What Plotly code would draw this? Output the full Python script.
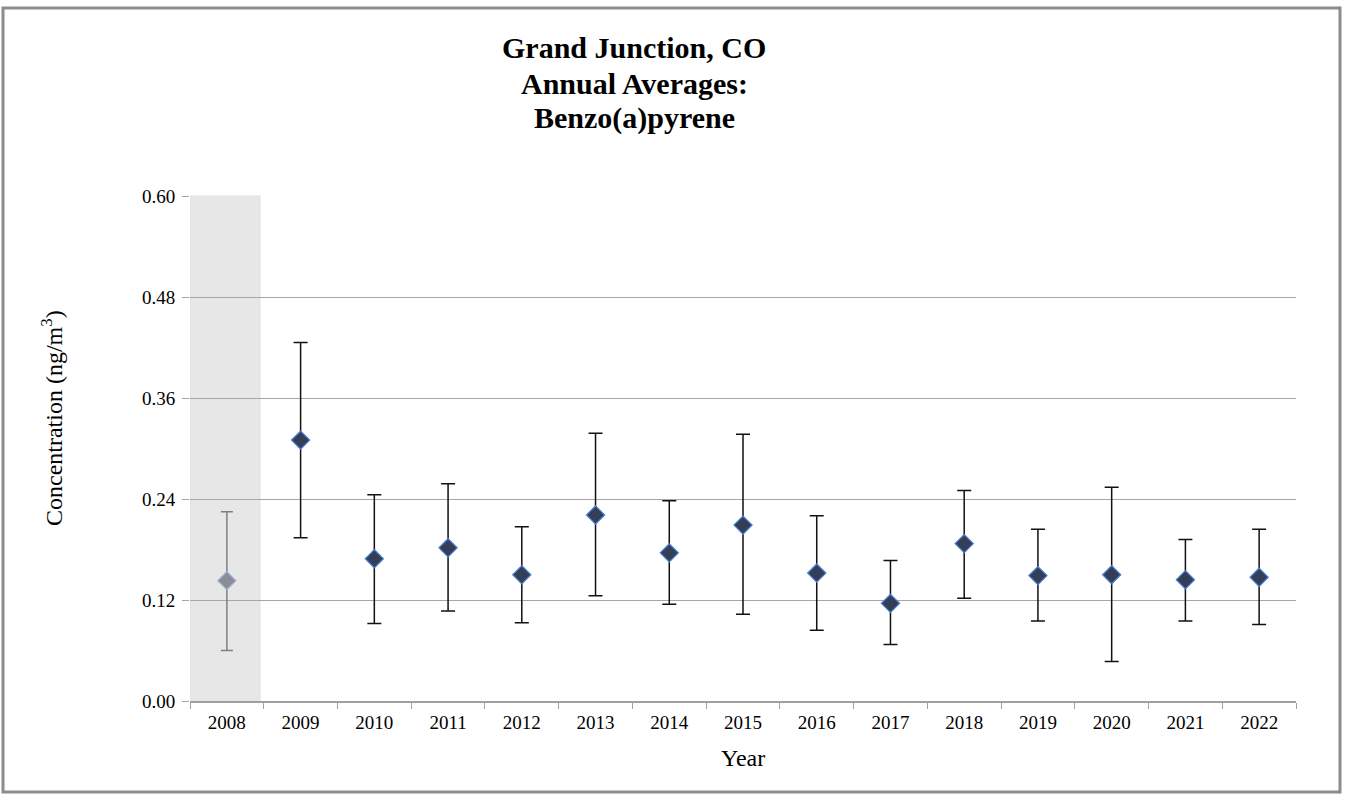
import plotly.graph_objects as go

years = ["2008", "2009", "2010", "2011", "2012", "2013", "2014", "2015",
         "2016", "2017", "2018", "2019", "2020", "2021", "2022"]
means = [0.143, 0.310, 0.169, 0.182, 0.150, 0.221, 0.176, 0.209,
         0.152, 0.116, 0.187, 0.149, 0.150, 0.144, 0.147]
upper = [0.225, 0.426, 0.245, 0.258, 0.207, 0.318, 0.238, 0.317,
         0.220, 0.167, 0.250, 0.204, 0.254, 0.192, 0.204]
lower = [0.060, 0.194, 0.092, 0.107, 0.093, 0.125, 0.115, 0.103,
         0.084, 0.067, 0.122, 0.095, 0.047, 0.095, 0.091]
y_ticks = [0.0, 0.12, 0.24, 0.36, 0.48, 0.60]
title_lines = ["Grand Junction, CO", "Annual Averages:", "Benzo(a)pyrene"]

FONT = "Liberation Serif, Times New Roman, serif"
W, H = 1346, 795
L, R, T, B = 190, 50, 196, 94
PW, PH = W - L - R, H - T - B


def px(x):
    return (x - L) / PW


def py(y):
    return (H - B - y) / PH


fig = go.Figure()

# 2008 (greyed) point
fig.add_trace(go.Scatter(
    x=years[:1], y=means[:1], mode="markers",
    marker=dict(symbol="diamond", size=14, color="#8a8d96",
                line=dict(color="#9fb4d8", width=1.2)),
    error_y=dict(type="data", symmetric=False,
                 array=[u - m for u, m in zip(upper[:1], means[:1])],
                 arrayminus=[m - lo for m, lo in zip(means[:1], lower[:1])],
                 color="#7f7f7f", thickness=1.5, width=6),
    showlegend=False, hoverinfo="skip"))

# remaining points
fig.add_trace(go.Scatter(
    x=years[1:], y=means[1:], mode="markers",
    marker=dict(symbol="diamond", size=14, color="#323f56",
                line=dict(color="#4a7fd4", width=1.2)),
    error_y=dict(type="data", symmetric=False,
                 array=[u - m for u, m in zip(upper[1:], means[1:])],
                 arrayminus=[m - lo for m, lo in zip(means[1:], lower[1:])],
                 color="#111111", thickness=1.5, width=7),
    showlegend=False, hoverinfo="skip"))

shapes = [
    # shaded 2008 band
    dict(type="rect", xref="x", yref="paper", x0=-0.5, x1=0.45, y0=0, y1=1,
         fillcolor="#e7e7e7", line=dict(color="#e3e3d8", width=1), layer="below"),
    # outer frame
    dict(type="rect", xref="paper", yref="paper",
         x0=px(3), x1=px(1340), y0=py(792), y1=py(8),
         line=dict(color="#8c8c8c", width=3), fillcolor="rgba(0,0,0,0)", layer="above"),
]

annotations = []
for i, line in enumerate(title_lines):
    annotations.append(dict(
        text=f"<b>{line}</b>", xref="paper", yref="paper",
        x=px(634), y=py(48 + 35 * i), xanchor="center", yanchor="middle",
        showarrow=False, font=dict(family=FONT, size=30, color="#000000")))

annotations.append(dict(
    text="Year", xref="paper", yref="paper", x=px(743), y=py(758),
    xanchor="center", yanchor="middle", showarrow=False,
    font=dict(family=FONT, size=24, color="#000000")))
annotations.append(dict(
    text="Concentration (ng/m<sup>3</sup>)", xref="paper", yref="paper",
    x=px(52), y=py(418), xanchor="center", yanchor="middle", textangle=-90,
    showarrow=False, font=dict(family=FONT, size=24, color="#000000")))

fig.update_layout(
    width=W, height=H,
    margin=dict(l=L, r=R, t=T, b=B),
    paper_bgcolor="white", plot_bgcolor="white",
    shapes=shapes, annotations=annotations,
    font=dict(family=FONT, color="#000000"),
    xaxis=dict(
        type="category", categoryorder="array", categoryarray=years,
        range=[-0.5, len(years) - 0.5],
        tickson="boundaries", ticks="outside", ticklen=6, tickcolor="#a0a0a0",
        showline=True, linecolor="#a0a0a0", linewidth=1.5,
        showgrid=False, ticklabelstandoff=3,
        tickfont=dict(family=FONT, size=19, color="#000000"),
    ),
    yaxis=dict(
        range=[0, 0.6], tickvals=y_ticks, ticktext=[f"{v:.2f}" for v in y_ticks],
        showgrid=True, gridcolor="#a6a6a6", gridwidth=1.3,
        zeroline=False, showline=False,
        ticks="outside", ticklen=7, tickcolor="#a6a6a6", ticklabelstandoff=3,
        tickfont=dict(family=FONT, size=19, color="#000000"),
    ),
)

fig.write_html("out.html", config={"displayModeBar": False},
               post_script="document.body.style.margin='0';")
